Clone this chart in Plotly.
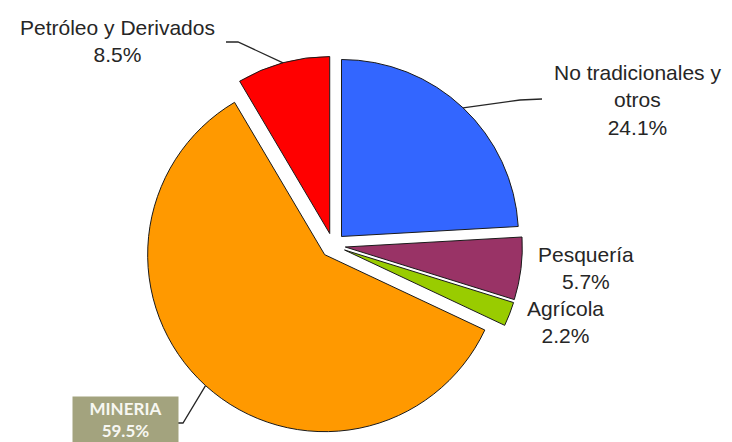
import numpy as np
import plotly.graph_objects as go

W, H = 732, 442

# Export composition by sector (%)
sectors = ["No tradicionales y otros", "Pesquería", "Agrícola", "MINERIA", "Petróleo y Derivados"]
label_names = ["No tradicionales y<br>otros", "Pesquería", "Agrícola", "MINERIA", "Petróleo y Derivados"]
shares = [24.1, 5.7, 2.2, 59.5, 8.5]
colors = ["#3366ff", "#993366", "#99cc00", "#ff9900", "#ff0000"]

# Pie geometry (pixels)
CX, CY = 333.0, 245.5
R = 177.0
PULL = 0.07
ext = R * (1 + PULL)


def px(x):
    return x / W


def py(y):
    return 1 - y / H


fig = go.Figure(
    go.Pie(
        labels=sectors,
        values=shares,
        sort=False,
        direction="clockwise",
        rotation=0,
        pull=[PULL] * len(shares),
        marker=dict(colors=colors, line=dict(color="#1a1a1a", width=1)),
        textinfo="none",
        hoverinfo="label+percent",
        domain=dict(x=[px(CX - ext), px(CX + ext)], y=[py(CY + ext), py(CY - ext)]),
        showlegend=False,
    )
)

# Mid-angle of each slice (clockwise from 12 o'clock) and its outer-edge point
vals = np.array(shares, dtype=float)
mid = (np.cumsum(vals) - vals / 2) / vals.sum() * 2 * np.pi
edge_x = CX + ext * np.sin(mid)
edge_y = CY - ext * np.cos(mid)

text_font = dict(family="Liberation Sans, Arial, sans-serif", size=21, color="#262626")

# label position (center) per slice; leader line elbow/end for those that have one
label_pos = {0: (637, 100), 1: (586, 268), 2: (565, 322), 4: (117, 41)}
leaders = {0: [(520, 100), (542, 99)], 3: [(183, 423), (178, 423)], 4: [(238, 42), (226, 42)]}

annotations = []
for i, (x, y) in label_pos.items():
    annotations.append(
        dict(
            x=px(x), y=py(y), xref="paper", yref="paper",
            text=f"{label_names[i]}<br>{shares[i]:.1f}%",
            showarrow=False, xanchor="center", yanchor="middle",
            align="center", font=text_font,
        )
    )

# Boxed label for the largest sector
annotations.append(
    dict(
        x=px(125.5), y=py(396), xref="paper", yref="paper",
        text=f"<b>{label_names[3]}</b><br><b>{shares[3]:.1f}%</b>",
        showarrow=False, xanchor="center", yanchor="top", align="center",
        bgcolor="#a3a37e", borderpad=1, width=103,
        font=dict(family="Lato, Open Sans, sans-serif", size=17, color="#f7f7f2"),
    )
)

shapes = []
for i, pts in leaders.items():
    path = f"M {px(edge_x[i])} {py(edge_y[i])}"
    for (x, y) in pts:
        path += f" L {px(x)} {py(y)}"
    shapes.append(
        dict(type="path", path=path, xref="paper", yref="paper",
             line=dict(color="#262626", width=1.3))
    )

fig.update_layout(
    width=W, height=H,
    margin=dict(l=0, r=0, t=0, b=0),
    paper_bgcolor="white",
    plot_bgcolor="white",
    annotations=annotations,
    shapes=shapes,
)

fig.write_html("out.html")
